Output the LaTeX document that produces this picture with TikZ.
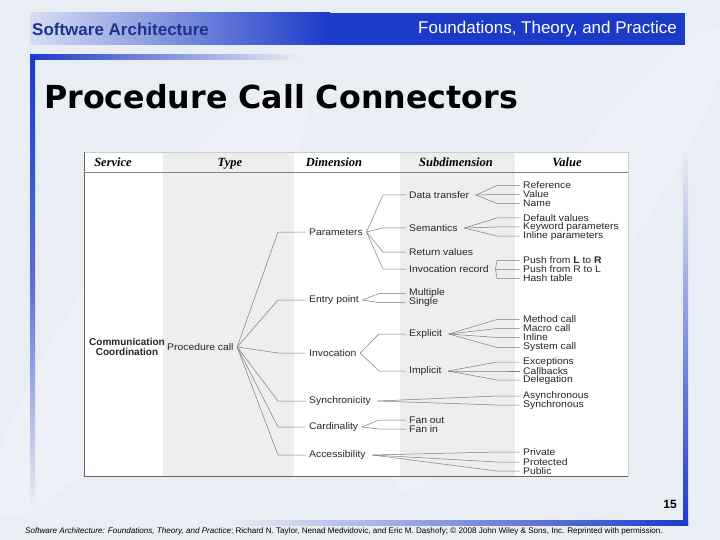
\documentclass[tikz,border=0pt]{standalone}
\usepackage{fontspec}
\setmainfont{Liberation Sans}
\newfontfamily\bodyfont[FakeStretch=1.08]{Liberation Sans}
\newfontfamily\headfont{Liberation Serif}
\newfontfamily\titlefont{DejaVu Sans}
\usetikzlibrary{positioning}

\definecolor{slidebg}{RGB}{233,237,244}
\definecolor{barblue}{RGB}{28,58,200}
\definecolor{barpale}{RGB}{214,222,242}
\definecolor{colgray}{RGB}{238,238,238}
\definecolor{rulegray}{RGB}{100,100,100}
\definecolor{linkgray}{RGB}{125,125,125}
\definecolor{labblue}{RGB}{30,50,140}

\begin{document}
\begin{tikzpicture}[
  x=1pt, y=-1pt,
  txt/.style={anchor=west, inner xsep=3.5pt, inner ysep=0pt, font=\bodyfont\fontsize{9.6}{10}\selectfont, text=black!85},
  head/.style={anchor=base, inner sep=0pt, font=\headfont\bfseries\itshape\fontsize{12.5}{13}\selectfont},
  link/.style={draw=linkgray, line width=0.5pt}
]
\useasboundingbox (0,0) rectangle (720,540);
\fill[slidebg] (0,0) rectangle (720,540);
\fill[white, opacity=0.22, rotate around={-35:(150,300)}] (150,300) ellipse (60 and 260);
\fill[white, opacity=0.2, rotate around={-35:(560,260)}] (560,260) ellipse (50 and 280);

% header bar
\shade[left color=barpale, right color=barblue] (30,13) rectangle (330,45);
\fill[barblue] (330,13) rectangle (685,45);
\node[anchor=west, inner sep=0pt, text=labblue, font=\bfseries\fontsize{17}{17}\selectfont] (brand) at (32,29) {Software Architecture};
\node[anchor=east, inner sep=0pt, text=white, font=\fontsize{17}{17}\selectfont] (subtitle) at (677,29) {Foundations, Theory, and Practice};

% frame lines
\shade[left color=barblue, right color=slidebg] (30,55) rectangle (300,60);
\shade[top color=barblue, bottom color=slidebg, middle color=barblue!70!slidebg] (30,55) rectangle (35,505);
\shade[top color=slidebg, bottom color=barblue] (683,150) rectangle (688,525);
\shade[left color=slidebg, right color=barblue] (230,520) rectangle (688,525);

\node[anchor=west, inner sep=0pt, font=\titlefont\bfseries\fontsize{31.7}{32}\selectfont] (title) at (44,97) {Procedure Call Connectors};
\node[anchor=east, inner sep=0pt, font=\bfseries\fontsize{12}{12}\selectfont] (pageno) at (677,504) {15};
\node[anchor=west, inner sep=0pt, font=\fontsize{8.1}{8}\selectfont] (credit) at (25,531)
  {\textit{Software Architecture: Foundations, Theory, and Practice}; Richard N. Taylor, Nenad Medvidovic, and Eric M. Dashofy; \textcopyright{} 2008 John Wiley \& Sons, Inc. Reprinted with permission.};

% table
\fill[white] (84,152) rectangle (628,476);
\fill[colgray] (163,152) rectangle (294,476);
\fill[colgray] (400,152) rectangle (515,476);
\draw[black!20] (84,152) -- (628,152) -- (628,476);
\draw[rulegray] (84,152) -- (84,476) -- (628,476);
\draw[rulegray!80] (84,172) -- (628,172);

\node[head] (hsvc) at (113,167) {Service};
\node[head] (htype) at (230,167) {Type};
\node[head] (hdim) at (334,167) {Dimension};
\node[head] (hsub) at (456,167) {Subdimension};
\node[head] (hval) at (567,167) {Value};

\node[align=center, text=black!85, font=\bfseries\fontsize{10}{10.5}\selectfont] (svc) at (127,347) {Communication\\Coordination};
\node[txt] (pc) at (163.5,347) {Procedure call};

% dimensions
\node[txt] (par) at (305.5,232) {Parameters};
\node[txt] (ent) at (305.5,300) {Entry point};
\node[txt] (inv) at (305.5,353) {Invocation};
\node[txt] (syn) at (305.5,401) {Synchronicity};
\node[txt] (car) at (305.5,427) {Cardinality};
\node[txt] (acc) at (305.5,455) {Accessibility};

% subdimensions
\node[txt] (dt) at (405.5,195) {Data transfer};
\node[txt] (sem) at (405.5,228) {Semantics};
\node[txt] (ret) at (405.5,252) {Return values};
\node[txt] (ivr) at (405.5,269) {Invocation record};
\node[txt] (mul) at (405.5,293.5) {Multiple};
\node[txt] (sgl) at (405.5,302.5) {Single};
\node[txt] (exp) at (405.5,334) {Explicit};
\node[txt] (imp) at (405.5,371) {Implicit};
\node[txt] (fo) at (405.5,420) {Fan out};
\node[txt] (fi) at (405.5,429) {Fan in};

% values
\node[txt] (ref) at (519.5,185.5) {Reference};
\node[txt] (val) at (519.5,194.5) {Value};
\node[txt] (nam) at (519.5,203.5) {Name};
\node[txt] (dfv) at (519.5,218) {Default values};
\node[txt] (kwp) at (519.5,227) {Keyword parameters};
\node[txt] (ilp) at (519.5,236) {Inline parameters};
\node[txt] (plr) at (519.5,260.5) {Push from \textbf{L} to \textbf{R}};
\node[txt] (prl) at (519.5,269.5) {Push from R to L};
\node[txt] (hsh) at (519.5,278.5) {Hash table};
\node[txt] (mc) at (519.5,319.5) {Method call};
\node[txt] (mac) at (519.5,328.5) {Macro call};
\node[txt] (inl) at (519.5,337.5) {Inline};
\node[txt] (sc) at (519.5,347.5) {System call};
\node[txt] (exc) at (519.5,362) {Exceptions};
\node[txt] (cb) at (519.5,371) {Callbacks};
\node[txt] (del) at (519.5,380) {Delegation};
\node[txt] (asy) at (519.5,396) {Asynchronous};
\node[txt] (sy) at (519.5,405) {Synchronous};
\node[txt] (pri) at (519.5,452) {Private};
\node[txt] (pro) at (519.5,462) {Protected};
\node[txt] (pub) at (519.5,471) {Public};

% tree connectors
\foreach \c in {par,ent,inv,syn,car,acc}
  \draw[link] (pc.east) -- ([xshift=-27.5pt]\c.west) -- (\c.west);
\foreach \p/\e/\cs in {par/22.5pt/{dt,sem,ret,ivr}, ent/26.5pt/{mul,sgl}, inv/26.5pt/{exp,imp}, car/26.5pt/{fo,fi}}
  \foreach \c in \cs
    \draw[link] (\p.east) -- ([xshift=-\e]\c.west) -- (\c.west);
\foreach \p/\cs in {dt/{ref,val,nam}, sem/{dfv,kwp,ilp}, ivr/{plr,prl,hsh}, exp/{mc,mac,inl,sc}, imp/{exc,cb,del}, syn/{asy,sy}, acc/{pri,pro,pub}}
  \foreach \c in \cs
    \draw[link] ([xshift=3pt]\p.east) -- ([xshift=-22.5pt]\c.west) -- (\c.west);

\end{tikzpicture}
\end{document}
